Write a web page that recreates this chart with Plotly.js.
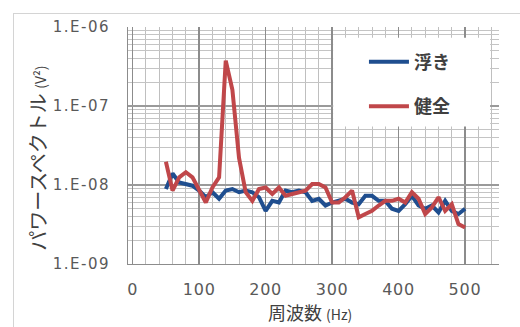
<!DOCTYPE html>
<html><head><meta charset="utf-8">
<script src="https://cdn.plot.ly/plotly-3.0.1.min.js"></script>
<style>
html,body{margin:0;padding:0;background:#fff;}
#wrap{position:relative;width:520px;height:327px;overflow:hidden;}
#chart{position:absolute;left:0;top:0;width:520px;height:327px;}
#frame{position:absolute;left:13px;top:13px;width:520px;height:330px;border:1px solid #d4d4d4;pointer-events:none;}
.ytick text{letter-spacing:1.5px;}
.xtick text{letter-spacing:0.8px;}
</style></head>
<body><div id="wrap"><div id="chart"></div><div id="frame"></div></div>
<script>
const freq = [50,60,70,80,90,100,110,120,130,140,150,160,170,180,190,200,210,220,230,240,250,260,270,280,290,300,310,320,330,340,350,360,370,380,390,400,410,420,430,440,450,460,470,480,490,500];
const ukiName = '浮き';
const ukiVals = [8.9e-9,1.4e-8,1.08e-8,1.03e-8,9.8e-9,8.5e-9,7.0e-9,8.1e-9,6.7e-9,8.5e-9,8.9e-9,8.1e-9,8.5e-9,8.1e-9,7.0e-9,4.7e-9,6.3e-9,6.0e-9,8.5e-9,8.1e-9,8.5e-9,8.1e-9,6.3e-9,6.7e-9,5.5e-9,6.0e-9,6.3e-9,6.7e-9,6.0e-9,5.7e-9,7.3e-9,7.3e-9,6.3e-9,6.3e-9,5.0e-9,4.7e-9,5.7e-9,7.3e-9,5.5e-9,5.0e-9,5.5e-9,4.5e-9,6.3e-9,4.7e-9,4.3e-9,5.0e-9];
const kenName = '健全';
const kenVals = [1.97e-8,8.5e-9,1.25e-8,1.45e-8,1.25e-8,8.5e-9,6.0e-9,9.3e-9,1.25e-8,3.75e-7,1.6e-7,2.2e-8,8.1e-9,6.3e-9,8.9e-9,9.3e-9,7.7e-9,9.3e-9,7.3e-9,7.7e-9,8.1e-9,8.5e-9,1.03e-8,1.03e-8,9.3e-9,6.0e-9,6.0e-9,7.0e-9,8.5e-9,3.9e-9,4.3e-9,4.7e-9,5.5e-9,6.3e-9,6.3e-9,6.7e-9,6.0e-9,8.1e-9,6.7e-9,4.3e-9,5.2e-9,7.0e-9,4.7e-9,5.7e-9,3.2e-9,2.9e-9];
const yTickVals = [1e-9,1e-8,1e-7,1e-6];
const yTickText = ['1.E-09','1.E-08','1.E-07','1.E-06'];
const xTickVals = [0,100,200,300,400,500];
const xTickText = ['0','100','200','300','400','500'];
const xTitle = '周波数 <span style="font-size:14px">(Hz)</span>';
const yTitle = 'パワースペクトル <span style="font-size:14px">(V²)</span>';

const FONT = '"Noto Sans CJK JP", "Noto Sans", sans-serif';
const TICKFONT = '"DejaVu Sans", sans-serif';
const traces = [
  {x: freq, y: ukiVals, name: ukiName, type: 'scatter', mode: 'lines',
   line: {color: '#1f4e8f', width: 4}, legendgroup: 'a'},
  {x: freq, y: kenVals, name: kenName, type: 'scatter', mode: 'lines',
   line: {color: '#c0474a', width: 4}, legendgroup: 'b'}
];
const layout = {
  width: 520, height: 327,
  margin: {l: 128, r: 21, t: 27, b: 63},
  paper_bgcolor: '#fff', plot_bgcolor: '#fff',
  font: {family: FONT, color: '#595959', size: 13},
  showlegend: true,
  legend: {x: 0.636, y: 0.93, xanchor: 'left', yanchor: 'top',
    bgcolor: 'rgba(0,0,0,0)', borderwidth: 0,
    font: {family: FONT, size: 18, color: '#404040', weight: 'bold'},
    traceorder: 'grouped', tracegroupgap: 18, itemwidth: 40},
  xaxis: {
    range: [-7, 551], tickvals: xTickVals, ticktext: xTickText,
    showgrid: true, gridcolor: '#8c8c8c', gridwidth: 1.5,
    minor: {dtick: 20, showgrid: true, gridcolor: '#bfbfbf', gridwidth: 1},
    zeroline: false, showline: true, linecolor: '#8c8c8c', mirror: false,
    ticks: '', ticklen: 0, ticklabelstandoff: 11,
    tickfont: {family: TICKFONT, size: 16, color: '#595959'}
  },
  yaxis: {
    type: 'log', range: [-9, -6], tickvals: yTickVals, ticktext: yTickText,
    showgrid: true, gridcolor: '#9a9a9a', gridwidth: 2.5,
    minor: {dtick: 'D1', showgrid: true, gridcolor: '#c4c4c4', gridwidth: 1},
    zeroline: false, showline: true, linecolor: '#8c8c8c',
    ticks: '', ticklen: 0, ticklabelstandoff: 14,
    tickfont: {family: TICKFONT, size: 15, color: '#595959'}
  },
  annotations: [
    {text: xTitle, xref: 'paper', yref: 'paper', x: 0.49, y: -0.262,
     xanchor: 'center', yanchor: 'bottom', showarrow: false, borderpad: 0,
     font: {family: FONT, size: 18, color: '#404040'}},
    {text: yTitle, xref: 'paper', yref: 'paper', x: -0.246, y: 0.447,
     xanchor: 'center', yanchor: 'middle', showarrow: false, textangle: -90,
     font: {family: FONT, size: 20, color: '#404040'}}
  ],
  shapes: [
    {type: 'rect', xref: 'paper', yref: 'paper', x0: 0.553, x1: 0.976, y0: 0.58, y1: 0.955,
     fillcolor: '#ffffff', line: {width: 0}, layer: 'above'}
  ]
};
Plotly.newPlot('chart', traces, layout, {displayModeBar: false, staticPlot: true});
</script></body></html>
